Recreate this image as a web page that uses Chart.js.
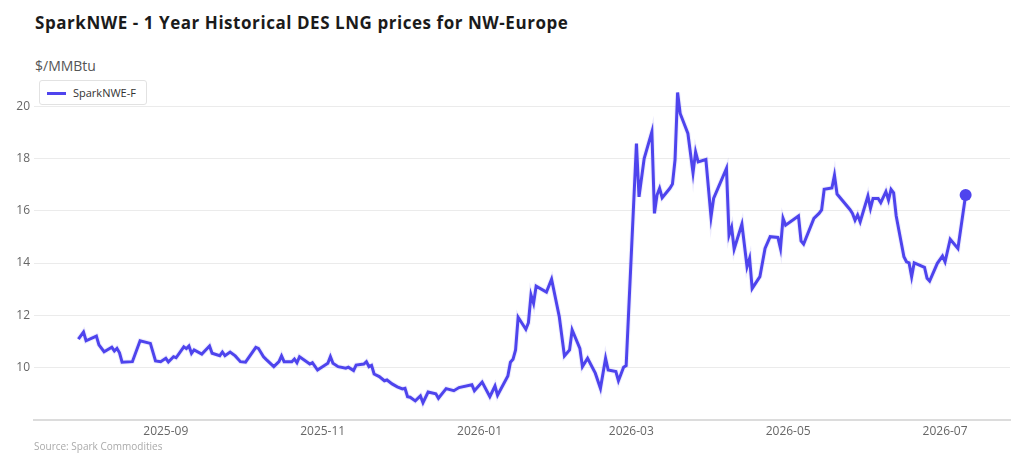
<!DOCTYPE html>
<html>
<head>
<meta charset="utf-8">
<title>SparkNWE</title>
<script src="https://cdn.jsdelivr.net/npm/chart.js@4.4.1/dist/chart.umd.min.js"></script>
<style>
  html, body { margin: 0; padding: 0; background: #fff; }
  #wrap { position: relative; width: 1024px; height: 466px; overflow: hidden; font-family: "Open Sans", sans-serif; }
  #title { position: absolute; left: 35px; top: 11px; font-size: 17px; font-weight: 700; color: #1b1b1b; white-space: nowrap; letter-spacing: 0.55px; }
  #unit { position: absolute; left: 35px; top: 56px; font-size: 14px; color: #555; }
  #legend { position: absolute; left: 39px; top: 80px; width: 108px; height: 25px; box-sizing: border-box;
            border: 1px solid #e2e2e2; border-radius: 3px; background: #fff; z-index: 2;
            font-size: 11px; color: #333; }
  #legend .swatch { position: absolute; left: 7px; top: 11px; width: 19px; height: 3px; background: #4f44ee; }
  #legend .label { position: absolute; left: 33px; top: 4px; }
  #source { position: absolute; left: 34px; top: 439px; font-size: 10px; color: #aaa; }
  #chart { position: absolute; left: 0; top: 0; }
</style>
</head>
<body>
<div id="wrap">
  <div id="title">SparkNWE - 1 Year Historical DES LNG prices for NW-Europe</div>
  <div id="unit">$/MMBtu</div>
  <div id="legend"><span class="swatch"></span><span class="label">SparkNWE-F</span></div>
  <canvas id="chart" width="1024" height="466"></canvas>
  <div id="source">Source: Spark Commodities</div>
</div>
<script>
  "use strict";

  // Data
  // --------------------------------------------------
  var dates = [
    "2025-07-29", "2025-07-31", "2025-08-01", "2025-08-05", "2025-08-06", "2025-08-08", "2025-08-11", "2025-08-12",
    "2025-08-13", "2025-08-14", "2025-08-15", "2025-08-19", "2025-08-22", "2025-08-26", "2025-08-28", "2025-08-30",
    "2025-09-01", "2025-09-02", "2025-09-04", "2025-09-05", "2025-09-08", "2025-09-09", "2025-09-10", "2025-09-11",
    "2025-09-12", "2025-09-15", "2025-09-18", "2025-09-19", "2025-09-22", "2025-09-23", "2025-09-24", "2025-09-26",
    "2025-09-28", "2025-09-30", "2025-10-02", "2025-10-06", "2025-10-07", "2025-10-09", "2025-10-10", "2025-10-13",
    "2025-10-15", "2025-10-16", "2025-10-17", "2025-10-20", "2025-10-21", "2025-10-22", "2025-10-23", "2025-10-27",
    "2025-10-28", "2025-10-30", "2025-11-03", "2025-11-04", "2025-11-05", "2025-11-07", "2025-11-10", "2025-11-11",
    "2025-11-13", "2025-11-14", "2025-11-17", "2025-11-18", "2025-11-19", "2025-11-20", "2025-11-21", "2025-11-23",
    "2025-11-25", "2025-11-26", "2025-11-28", "2025-11-30", "2025-12-02", "2025-12-03", "2025-12-04", "2025-12-05",
    "2025-12-07", "2025-12-09", "2025-12-10", "2025-12-12", "2025-12-15", "2025-12-16", "2025-12-19", "2025-12-22",
    "2025-12-24", "2025-12-29", "2025-12-30", "2026-01-02", "2026-01-05", "2026-01-07", "2026-01-08", "2026-01-12",
    "2026-01-13", "2026-01-14", "2026-01-15", "2026-01-16", "2026-01-19", "2026-01-20", "2026-01-21", "2026-01-22",
    "2026-01-23", "2026-01-27", "2026-01-29", "2026-02-01", "2026-02-03", "2026-02-05", "2026-02-06", "2026-02-09",
    "2026-02-10", "2026-02-12", "2026-02-15", "2026-02-17", "2026-02-19", "2026-02-20", "2026-02-23", "2026-02-24",
    "2026-02-26", "2026-02-27", "2026-03-03", "2026-03-04", "2026-03-06", "2026-03-09", "2026-03-10", "2026-03-11",
    "2026-03-12", "2026-03-13", "2026-03-16", "2026-03-17", "2026-03-18", "2026-03-19", "2026-03-20", "2026-03-23",
    "2026-03-25", "2026-03-26", "2026-03-27", "2026-03-30", "2026-04-01", "2026-04-02", "2026-04-07", "2026-04-08",
    "2026-04-09", "2026-04-10", "2026-04-13", "2026-04-15", "2026-04-16", "2026-04-17", "2026-04-20", "2026-04-22",
    "2026-04-24", "2026-04-27", "2026-04-28", "2026-04-29", "2026-04-30", "2026-05-05", "2026-05-06", "2026-05-07",
    "2026-05-11", "2026-05-13", "2026-05-14", "2026-05-15", "2026-05-18", "2026-05-19", "2026-05-20", "2026-05-25",
    "2026-05-26", "2026-05-27", "2026-05-28", "2026-05-29", "2026-06-01", "2026-06-02", "2026-06-03", "2026-06-05",
    "2026-06-06", "2026-06-08", "2026-06-09", "2026-06-10", "2026-06-11", "2026-06-12", "2026-06-15", "2026-06-16",
    "2026-06-17", "2026-06-18", "2026-06-19", "2026-06-23", "2026-06-24", "2026-06-25", "2026-06-28", "2026-06-30",
    "2026-07-01", "2026-07-03", "2026-07-06", "2026-07-09"
  ];

  var sparkNWE = [
    11.09, 11.36, 11.03, 11.21, 10.87, 10.61, 10.78, 10.64,
    10.74, 10.57, 10.21, 10.23, 11.03, 10.93, 10.26, 10.23,
    10.36, 10.22, 10.42, 10.38, 10.80, 10.73, 10.83, 10.55,
    10.68, 10.52, 10.83, 10.55, 10.46, 10.60, 10.46, 10.60,
    10.45, 10.23, 10.21, 10.78, 10.74, 10.42, 10.32, 10.04,
    10.23, 10.45, 10.23, 10.23, 10.33, 10.19, 10.42, 10.14,
    10.19, 9.91, 10.17, 10.42, 10.17, 10.04, 9.98, 10.02,
    9.89, 10.10, 10.14, 10.23, 10.04, 10.09, 9.76, 9.66,
    9.50, 9.53, 9.38, 9.27, 9.19, 9.21, 8.89, 8.87,
    8.73, 8.92, 8.66, 9.07, 9.00, 8.83, 9.20, 9.12,
    9.24, 9.35, 9.12, 9.45, 8.89, 9.30, 8.95, 9.68,
    10.21, 10.32, 10.68, 11.93, 11.47, 11.72, 12.78, 12.46,
    13.12, 12.89, 13.38, 11.95, 10.45, 10.68, 11.44, 10.74,
    10.04, 10.36, 9.79, 9.21, 10.36, 9.91, 9.85, 9.50,
    10.02, 10.08, 18.57, 16.53, 18.00, 19.02, 15.90, 16.60,
    16.86, 16.50, 16.86, 17.02, 17.94, 20.52, 19.72, 18.96,
    17.45, 18.25, 17.87, 17.96, 15.77, 16.47, 17.62, 15.07,
    15.37, 14.54, 15.49, 13.86, 14.18, 13.03, 13.48, 14.56,
    15.01, 14.98, 14.56, 15.71, 15.45, 15.80, 14.85, 14.73,
    15.71, 15.90, 16.03, 16.82, 16.87, 17.36, 16.64, 16.05,
    15.90, 15.64, 15.84, 15.58, 16.56, 16.09, 16.47, 16.47,
    16.31, 16.73, 16.41, 16.82, 16.69, 15.80, 14.24, 14.05,
    14.01, 13.48, 14.01, 13.84, 13.42, 13.31, 13.99, 14.27,
    14.05, 14.91, 14.56, 16.60
  ];

  var xTickLabels = ["2025-09", "2025-11", "2026-01", "2026-03", "2026-05", "2026-07"];
  var yTickValues = [10, 12, 14, 16, 18, 20];

  // Helpers
  // --------------------------------------------------
  var DAY = 86400000;
  function toDay(s) { return Date.parse(s + "T00:00:00Z") / DAY; }

  var points = dates.map(function (d, i) { return { x: toDay(d), y: sparkNWE[i] }; });
  var firstDay = points[0].x;
  var lastDay = points[points.length - 1].x;
  var pad = (lastDay - firstDay) * 0.05;
  var radii = points.map(function (p, i) { return i === points.length - 1 ? 6 : 0; });

  var lineColor = "#4f44ee";

  // Chart
  // --------------------------------------------------
  var ctx = document.getElementById("chart").getContext("2d");
  var priceChart = new Chart(ctx, {
    type: "line",
    data: {
      datasets: [
        {
          label: "band",
          data: points,
          borderColor: "rgba(79, 68, 238, 0.10)",
          borderWidth: 5,
          pointRadius: 0,
          tension: 0,
          fill: false
        },
        {
          label: "SparkNWE-F",
          data: points,
          borderColor: lineColor,
          backgroundColor: lineColor,
          borderWidth: 3,
          pointRadius: radii,
          pointHoverRadius: radii,
          pointBorderWidth: 0,
          tension: 0,
          fill: false
        }
      ]
    },
    options: {
      responsive: false,
      animation: false,
      layout: { padding: { left: 0, top: 80, right: 14, bottom: 26 } },
      plugins: {
        legend: { display: false },
        title: { display: false },
        tooltip: { enabled: false }
      },
      scales: {
        x: {
          type: "linear",
          min: firstDay - pad,
          max: lastDay + pad,
          afterBuildTicks: function (scale) {
            scale.ticks = xTickLabels.map(function (l) { return { value: toDay(l + "-01"), label: l }; });
          },
          afterFit: function (scale) { scale.height = 20; },
          ticks: {
            autoSkip: false,
            maxRotation: 0,
            padding: 4,
            color: "#666",
            font: { family: "Open Sans", size: 12 },
            callback: function (v) {
              var i = xTickLabels.findIndex(function (l) { return toDay(l + "-01") === v; });
              return i >= 0 ? xTickLabels[i] : "";
            }
          },
          grid: { display: false, drawTicks: false },
          border: { display: true, color: "#dcdcdc", width: 2 }
        },
        y: {
          min: 8,
          max: 21,
          afterBuildTicks: function (scale) {
            scale.ticks = [{ value: 8 }].concat(yTickValues.map(function (v) { return { value: v }; }));
          },
          afterFit: function (scale) { scale.width = 34; },
          ticks: {
            padding: 4,
            color: "#666",
            font: { family: "Open Sans", size: 12 },
            callback: function (v) { return yTickValues.indexOf(v) >= 0 ? String(v) : ""; }
          },
          grid: { color: "#ebebeb", lineWidth: 1, drawTicks: false },
          border: { display: false }
        }
      }
    }
  });
</script>
</body>
</html>
